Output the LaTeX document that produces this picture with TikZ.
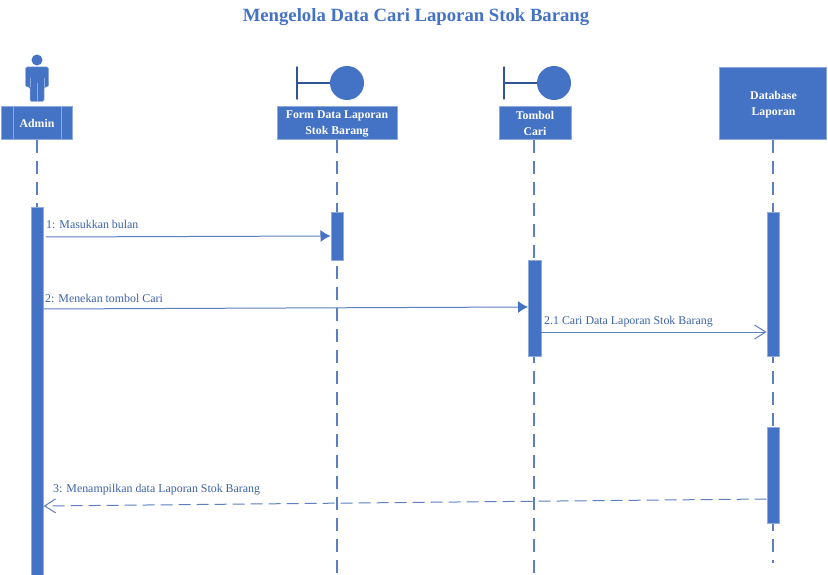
\documentclass[tikz,border=0pt]{standalone}
\usepackage{fontspec}
\setmainfont{Liberation Serif}
\usetikzlibrary{arrows.meta}
\definecolor{umlblue}{HTML}{4472C4}
\definecolor{umledge}{HTML}{8FAADC}
\definecolor{umldark}{HTML}{2F5597}
\definecolor{umlline}{HTML}{5B7FBF}
\definecolor{umltext}{HTML}{3D62A8}
\tikzset{
  headbox/.style={draw=umledge,line width=1pt,fill=umlblue,text=white,font=\bfseries\fontsize{11.8}{16}\selectfont,align=center,inner sep=0pt,minimum height=33pt},
  actbar/.style={draw=umledge,line width=0.5pt,fill=umlblue,inner sep=0pt,minimum width=12.5pt},
  lifeline/.style={draw=umlline,line width=1.2pt,dash pattern=on 13pt off 8pt},
  msglabel/.style={text=umltext,font=\fontsize{11.9}{13}\selectfont,anchor=base west,inner sep=0pt},
  callmsg/.style={draw=umlline,line width=1pt,-{Latex[length=10pt,width=12pt,fill=umlblue,umlblue]}},
  openmsg/.style={draw=umlline,line width=1pt,-{Straight Barb[length=11pt,width=14pt]}}
}
\begin{document}
\begin{tikzpicture}[line cap=butt,line join=round,x=1pt,y=-1pt]
  \useasboundingbox (0,0) rectangle (828,575);
  \node [text=umlblue,font=\bfseries\fontsize{18.7}{20}\selectfont] (title) at (416,17) {Mengelola Data Cari Laporan Stok Barang};
  % heads of the lifelines
  \node [headbox,minimum width=71pt] (admin) at (37,123) {Admin};
  \node [headbox,minimum width=120pt] (form) at (337,123.5) {Form Data Laporan\\Stok Barang};
  \node [headbox,minimum width=72pt] (tombol) at (535,123.5) {Tombol\\Cari};
  \node [headbox,minimum width=107pt,minimum height=72pt] (database) at (773,103.5) {};
  \node [text=white,font=\bfseries\fontsize{11.8}{16}\selectfont,align=center,inner sep=0pt] (databasetext) at (773.5,104.5) {Database\\Laporan};
  \draw [draw=umledge,line width=1pt] (13,106)-- (13,140);
  \draw [draw=umledge,line width=1pt] (61,106)-- (61,140);
  % actor
  \fill [umlblue] (37,60) circle (5.5pt);
  \draw [draw=umledge,line width=0.5pt,fill=umlblue,rounded corners=1.5pt] (25.5,67)-- (48.5,67)-- (48.5,87)-- (44,87)-- (44,101.5)-- (30,101.5)-- (30,87)-- (25.5,87)-- cycle;
  \draw [draw=umledge,line width=0.7pt] (30,78)-- (30,87);
  \draw [draw=umledge,line width=0.7pt] (44,78)-- (44,87);
  \draw [draw=umledge,line width=0.7pt] (37,83)-- (37,101);
  % boundary icons
  \draw [draw=umldark,line width=1.4pt,line cap=round] (297,67)-- (297,99);
  \draw [draw=umldark,line width=1.4pt] (297,83)-- (331,83);
  \fill [umlblue] (347,83) circle (17pt);
  \draw [draw=umldark,line width=1.4pt,line cap=round] (504,67)-- (504,99);
  \draw [draw=umldark,line width=1.4pt] (504,83)-- (538,83);
  \fill [umlblue] (554,83) circle (17pt);
  % ends of the lifelines
  \coordinate (adminend) at (37,575);
  \coordinate (formend) at (337,575);
  \coordinate (tombolend) at (534,575);
  \coordinate (databaseend) at (773,563);
  \draw [lifeline] (37,140)-- (adminend);
  \draw [lifeline] (337,140)-- (formend);
  \draw [lifeline] (534,140)-- (tombolend);
  \draw [lifeline] (773,140)-- (databaseend);
  % activation bars
  \node [actbar,minimum height=368pt] (baradmin) at (37.2,391) {};
  \node [actbar,minimum height=48pt] (barform) at (337,236) {};
  \node [actbar,minimum height=96pt] (bartombol) at (534.5,308) {};
  \node [actbar,minimum height=144pt] (bardata) at (773,284) {};
  \node [actbar,minimum height=96pt] (bardatab) at (773,475) {};
  % messages
  \coordinate (msgastart) at (46,237);
  \coordinate (msgbstart) at (baradmin.east |- 0,309);
  \coordinate (msgcstart) at (bartombol.east |- 0,332);
  \coordinate (msgdstart) at (bardatab.west |- 0,499);
  \draw [callmsg] (msgastart)-- (barform.west |- 0,236);
  \draw [callmsg] (msgbstart)-- (bartombol.west |- 0,307);
  \draw [openmsg] (msgcstart)-- (bardata.west |- 0,332);
  \draw [openmsg,dash pattern=on 12pt off 6pt] (msgdstart)-- (baradmin.east |- 0,506);
  \node [msglabel] (labela) at (46,229) {1: Masukkan bulan};
  \node [msglabel] (labelb) at (45,302) {2: Menekan tombol Cari};
  \node [msglabel] (labelc) at (544,324) {2.1 Cari Data Laporan Stok Barang};
  \node [msglabel] (labeld) at (53,492) {3: Menampilkan data Laporan Stok Barang};
\end{tikzpicture}
\end{document}
